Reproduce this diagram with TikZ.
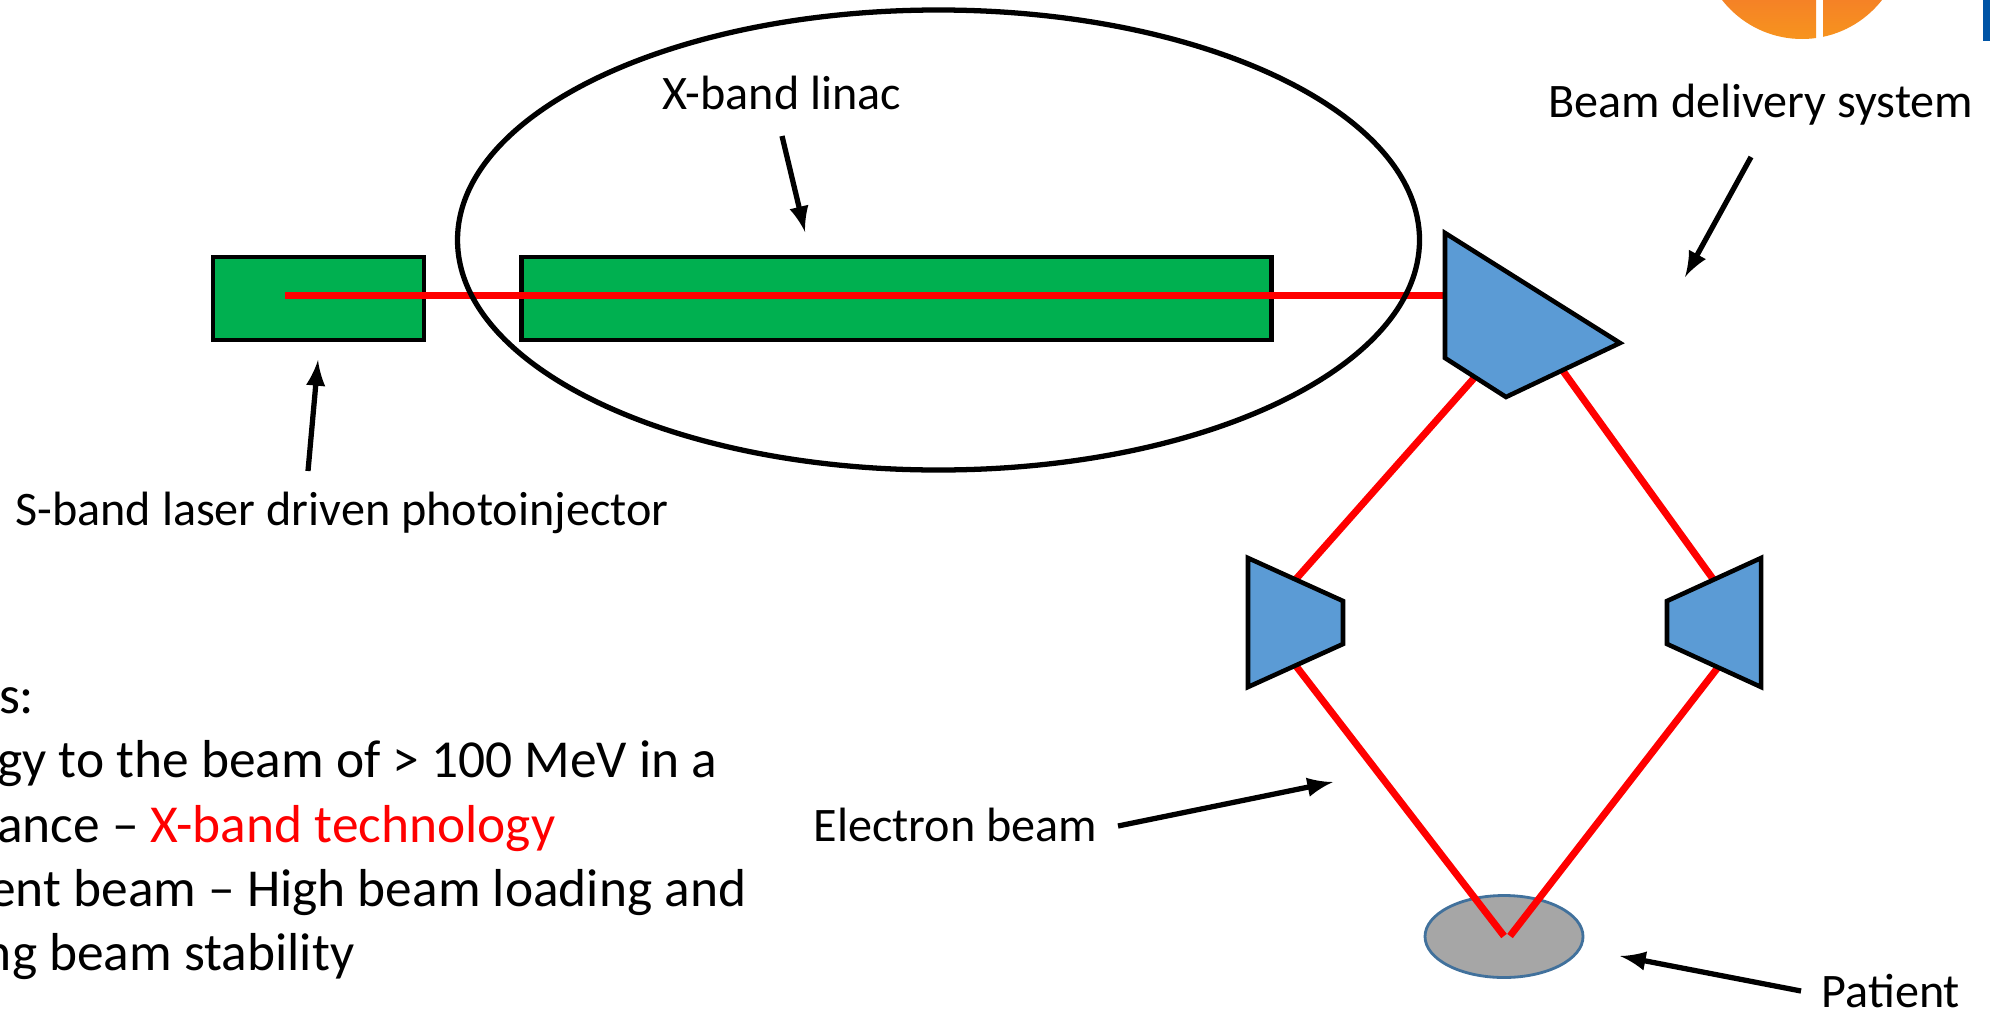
\documentclass[tikz,border=0pt]{standalone}
\usepackage{fontspec}
\setmainfont{Carlito}
\usetikzlibrary{shapes.geometric}
\usetikzlibrary{arrows}
\definecolor{cavitygreen}{HTML}{00B050}
\definecolor{magnetblue}{HTML}{5B9BD5}
\definecolor{logoblue}{HTML}{0054A6}
\definecolor{logotop}{HTML}{F58226}
\definecolor{logobottom}{HTML}{F7941E}
\definecolor{patientgray}{HTML}{A6A6A6}
\definecolor{patientedge}{HTML}{41719C}
\tikzset{
	cavity/.style={rectangle, draw, line width=1.3pt, fill=cavitygreen, inner sep=0, minimum height=0.83cm},
	magnet/.style={draw, line width=1.3pt, fill=magnetblue, line join=miter},
	beam/.style={line width=2pt, red},
	pointer/.style={line width=1.5pt, ->, >=latex},
	caption/.style={inner sep=0, font=\fontsize{13.7pt}{16pt}\selectfont},
	bodytext/.style={inner sep=0, anchor=base east, font=\fontsize{15.2pt}{18pt}\selectfont},
}
\begin{document}
\begin{tikzpicture}
	\clip (0,0) rectangle (19.9,-10.13);
	\fill[white] (0,0) rectangle (19.9,-10.13);

	% logo in the corner
	\begin{scope}
		\clip (18.02,0.625) circle (1.015);
		\shade[top color=logotop, bottom color=logobottom] (17,0) rectangle (18.16,-0.39);
		\shade[top color=logotop, bottom color=logobottom] (18.23,0) rectangle (19,-0.39);
	\end{scope}
	\fill[logoblue] (19.83,0) rectangle (19.9,-0.41);

	\node[cavity, minimum width=2.11cm] (gun) at (3.185,-2.985) {};
	\node[cavity, minimum width=7.50cm] (linac) at (8.965,-2.985) {};

	\coordinate (beamstart) at (2.85,-2.955);
	\coordinate (bdsin) at (14.45,-2.955);
	\draw[beam] (beamstart) -- (bdsin);

	\node[ellipse, draw, line width=1.5pt, inner sep=0, minimum width=9.62cm, minimum height=4.60cm] (linacring) at (9.385,-2.40) {};

	\node[ellipse, draw=patientedge, thick, fill=patientgray, inner sep=0, minimum width=1.58cm, minimum height=0.82cm] (patient) at (15.04,-9.365) {};

	% beam lines
	\coordinate (bdsleft) at (14.75,-3.77);
	\coordinate (bdsright) at (15.63,-3.71);
	\coordinate (magleftup) at (12.96,-5.79);
	\coordinate (magrightup) at (17.13,-5.79);
	\coordinate (magleftdown) at (12.96,-6.66);
	\coordinate (magrightdown) at (17.19,-6.66);
	\coordinate (spotleft) at (15.04,-9.36);
	\coordinate (spotright) at (15.10,-9.36);
	\draw[beam] (bdsleft) -- (magleftup);
	\draw[beam] (bdsright) -- (magrightup);
	\draw[beam] (magleftdown) -- (spotleft);
	\draw[beam] (magrightdown) -- (spotright);

	% magnets
	\draw[magnet] (14.45,-2.33) -- (16.2,-3.43) -- (15.06,-3.97) -- (14.45,-3.58) -- cycle;
	\draw[magnet] (12.48,-5.58) -- (13.43,-6.01) -- (13.43,-6.44) -- (12.48,-6.87) -- cycle;
	\draw[magnet] (17.61,-5.58) -- (16.67,-6.01) -- (16.67,-6.44) -- (17.61,-6.87) -- cycle;

	% labels
	\node[caption, anchor=base west] (xband) at (6.62,-1.09) {X-band linac};
	\node[caption, anchor=base west] (bds) at (15.48,-1.17) {Beam delivery system};
	\node[caption, anchor=base west] (sband) at (0.15,-5.25) {S-band laser driven photoinjector};
	\node[caption, anchor=base west] (ebeam) at (8.13,-8.41) {Electron beam};
	\node[caption, anchor=base west] (patientlabel) at (18.21,-10.07) {Patient};

	\node[bodytext] (line1) at (0.35,-7.13) {s:};
	\node[bodytext] (line2) at (7.18,-7.77) {gy to the beam of > 100 MeV in a};
	\node[bodytext] (line3) at (5.56,-8.42) {ance -- \textcolor{red}{X-band technology}};
	\node[bodytext] (line4) at (7.47,-9.06) {ent beam -- High beam loading and};
	\node[bodytext] (line5) at (3.55,-9.70) {ng beam stability};

	% arrows
	\coordinate (xbandfrom) at (7.82,-1.36);
	\coordinate (xbandto) at (8.05,-2.32);
	\coordinate (bdsfrom) at (17.51,-1.57);
	\coordinate (bdsto) at (16.85,-2.77);
	\coordinate (sbandfrom) at (3.08,-4.71);
	\coordinate (sbandto) at (3.18,-3.60);
	\coordinate (ebeamfrom) at (11.18,-8.26);
	\coordinate (ebeamto) at (13.33,-7.82);
	\coordinate (patientfrom) at (18.01,-9.91);
	\coordinate (patientto) at (16.20,-9.56);
	\draw[pointer] (xbandfrom) -- (xbandto);
	\draw[pointer] (bdsfrom) -- (bdsto);
	\draw[pointer] (sbandfrom) -- (sbandto);
	\draw[pointer] (ebeamfrom) -- (ebeamto);
	\draw[pointer] (patientfrom) -- (patientto);
\end{tikzpicture}
\end{document}
